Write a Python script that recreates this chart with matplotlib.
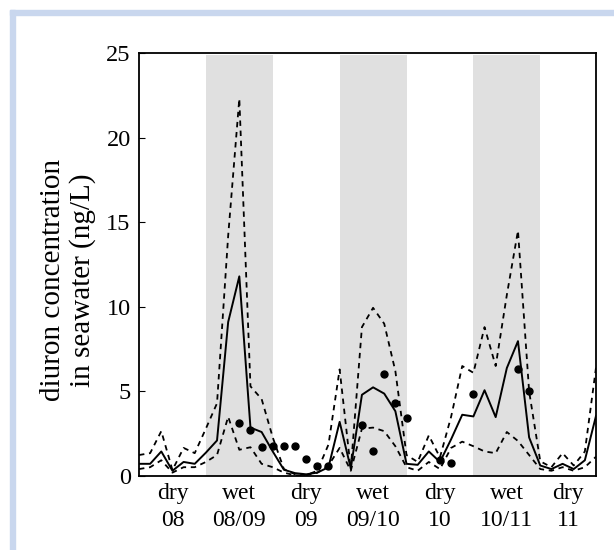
import numpy as np
import matplotlib.pyplot as plt
from matplotlib.patches import Rectangle

plt.rcParams['font.family'] = ['Liberation Serif', 'DejaVu Serif']

# monthly model output (0 = start of dry 08)
months = np.arange(42)
mean_conc = [0.72, 0.72, 1.45, 0.31, 0.83, 0.72, 1.38, 2.1, 9.1, 11.8,
             2.86, 2.6, 1.45, 0.37, 0.17, 0.1, 0.2, 0.52, 3.2, 0.45,
             4.8, 5.24, 4.87, 3.83, 0.72, 0.66, 1.45, 0.83, 2.17, 3.62,
             3.52, 5.07, 3.48, 6.38, 7.97, 2.28, 0.62, 0.41, 0.72, 0.41,
             0.93, 3.55]
upper_conc = [1.24, 1.35, 2.65, 0.35, 1.66, 1.35, 2.8, 4.3, 14.2, 22.3,
              5.3, 4.55, 2.28, 0.41, 0.1, 0.05, 0.31, 1.86, 6.3, 0.41,
              8.8, 9.94, 9.0, 6.2, 1.24, 0.83, 2.4, 1.1, 3.5, 6.5,
              6.1, 8.8, 6.5, 10.7, 14.5, 5.0, 0.87, 0.52, 1.35, 0.62,
              1.45, 6.4]
lower_conc = [0.41, 0.52, 0.93, 0.2, 0.52, 0.52, 0.83, 1.24, 3.5, 1.55,
              1.7, 0.72, 0.52, 0.2, 0.04, 0.04, 0.2, 0.62, 1.66, 0.31,
              2.8, 2.86, 2.65, 1.76, 0.52, 0.31, 0.83, 0.41, 1.66, 2.03,
              1.76, 1.45, 1.35, 2.6, 2.07, 1.24, 0.41, 0.31, 0.52, 0.31,
              0.52, 1.14]

# measured concentrations
obs_month = [9, 10, 11, 12, 13, 14, 15, 16, 17, 20, 21, 22, 23, 24, 27, 28, 30, 34, 35]
obs_conc = [3.12, 2.72, 1.72, 1.8, 1.8, 1.8, 1.0, 0.58, 0.58, 3.02, 1.5,
            6.0, 4.3, 3.4, 0.92, 0.78, 4.82, 6.3, 5.0]

wet_seasons = [(6, 12), (18, 24), (30, 36)]
season_pos = [3, 9, 15, 21, 27, 33, 38.5]
season_labels = ['dry\n08', 'wet\n08/09', 'dry\n09', 'wet\n09/10',
                 'dry\n10', 'wet\n10/11', 'dry\n11']

fig = plt.figure(figsize=(6.14, 5.5), dpi=100)

# light blue frame at top and left
fig.patches.append(Rectangle((10/614, 0), 5/614, 540/550,
                             transform=fig.transFigure, color='#c9d7ee', zorder=0))
fig.patches.append(Rectangle((10/614, 535/550), 604/614, 5/550,
                             transform=fig.transFigure, color='#c9d7ee', zorder=0))

ax = fig.add_axes([139/614, 74/550, 457/614, 423/550])

for start, end in wet_seasons:
    ax.axvspan(start, end, ymax=0.995, color='#e0e0e0', lw=0, zorder=0)

ax.plot(months, upper_conc, color='black', lw=1.3, ls=(0, (3, 2.6)))
ax.plot(months, lower_conc, color='black', lw=1.3, ls=(0, (3, 2.6)))
ax.plot(months, mean_conc, color='black', lw=1.4)
ax.plot(obs_month, obs_conc, 'o', color='black', ms=5)

ax.set_xlim(0, 41)
ax.set_ylim(0, 25)
ax.set_yticks([0, 5, 10, 15, 20, 25])
ax.set_xticks(season_pos)
ax.set_xticklabels(season_labels, fontsize=17, linespacing=1.4)
ax.tick_params(axis='x', length=0, pad=5)
ax.tick_params(axis='y', direction='in', length=4, labelsize=17.5, pad=6)

for sp in ax.spines.values():
    sp.set_linewidth(1.3)

fig.text(68/614, 1 - 280/550, 'diuron concentration\nin seawater (ng/L)',
         rotation=90, ha='center', va='center', fontsize=21,
         linespacing=1.15, multialignment='center')

fig.savefig('out.png', dpi=100)
